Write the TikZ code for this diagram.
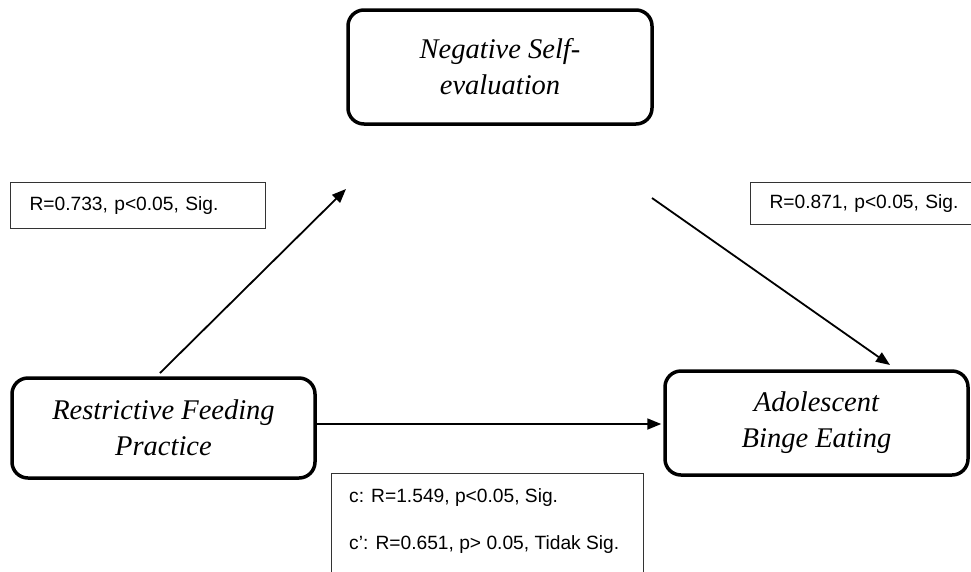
\documentclass[tikz,border=0pt]{standalone}
\usepackage{fontspec}
\setmainfont{Liberation Serif}
\newfontfamily\arialfont{Liberation Sans}
\usetikzlibrary{arrows.meta}
\begin{document}
\begin{tikzpicture}[x=1pt,y=-1pt,
  mainbox/.style={draw, line width=3.5pt, rounded corners=16pt, align=center,
    font=\fontsize{28.5}{36}\selectfont\itshape, inner sep=0pt},
  statfont/.style={font=\arialfont\fontsize{19.2}{23}\selectfont},
  statbox/.style={statfont, draw=black!80, line width=1pt, inner xsep=19pt, inner ysep=0pt, align=left},
  conn/.style={line width=1.8pt, -{Triangle[length=14pt,width=11pt]}}]
\useasboundingbox (0,0) rectangle (971,571);
\clip (0,0) rectangle (971,571);

% main boxes
\node[mainbox, minimum width=304pt, minimum height=114pt] (nse) at (500,67) {Negative Self-\\evaluation};
\node[mainbox, minimum width=303pt, minimum height=100pt] (rfp) at (163.5,428) {Restrictive Feeding\\Practice};
\node[mainbox, minimum width=303pt, minimum height=104pt] (abe) at (816.5,423) {Adolescent\\Binge Eating};

% connectors
\coordinate (a1s) at (160,373);
\coordinate (a1e) at (346,189);
\draw[conn] (a1s) -- (a1e);
\coordinate (a2s) at (652,198);
\coordinate (a2e) at (890,365);
\draw[conn] (a2s) -- (a2e);
\coordinate (a3) at (0,424);
\draw[conn, shorten >=2pt] (rfp.east |- a3) -- (abe.west |- a3);

% statistics labels
\node[statbox, anchor=north west, text width=217pt, minimum height=46pt] (l1) at (10,182) {R=0.733, p<0.05, Sig.};
\node[statbox, anchor=north west, text width=230pt, minimum height=42pt] (l2) at (750,182) {R=0.871, p<0.05, Sig.};
\node[draw=black!80, line width=1pt, anchor=north west, minimum width=312pt, minimum height=120pt, inner sep=0pt] (l3) at (331,473) {};
\node[statfont, anchor=base west, inner sep=0pt] (l3a) at (349,502) {c: R=1.549, p<0.05, Sig.};
\node[statfont, anchor=base west, inner sep=0pt] (l3b) at (349,549) {c’: R=0.651, p> 0.05, Tidak Sig.};
\end{tikzpicture}
\end{document}
